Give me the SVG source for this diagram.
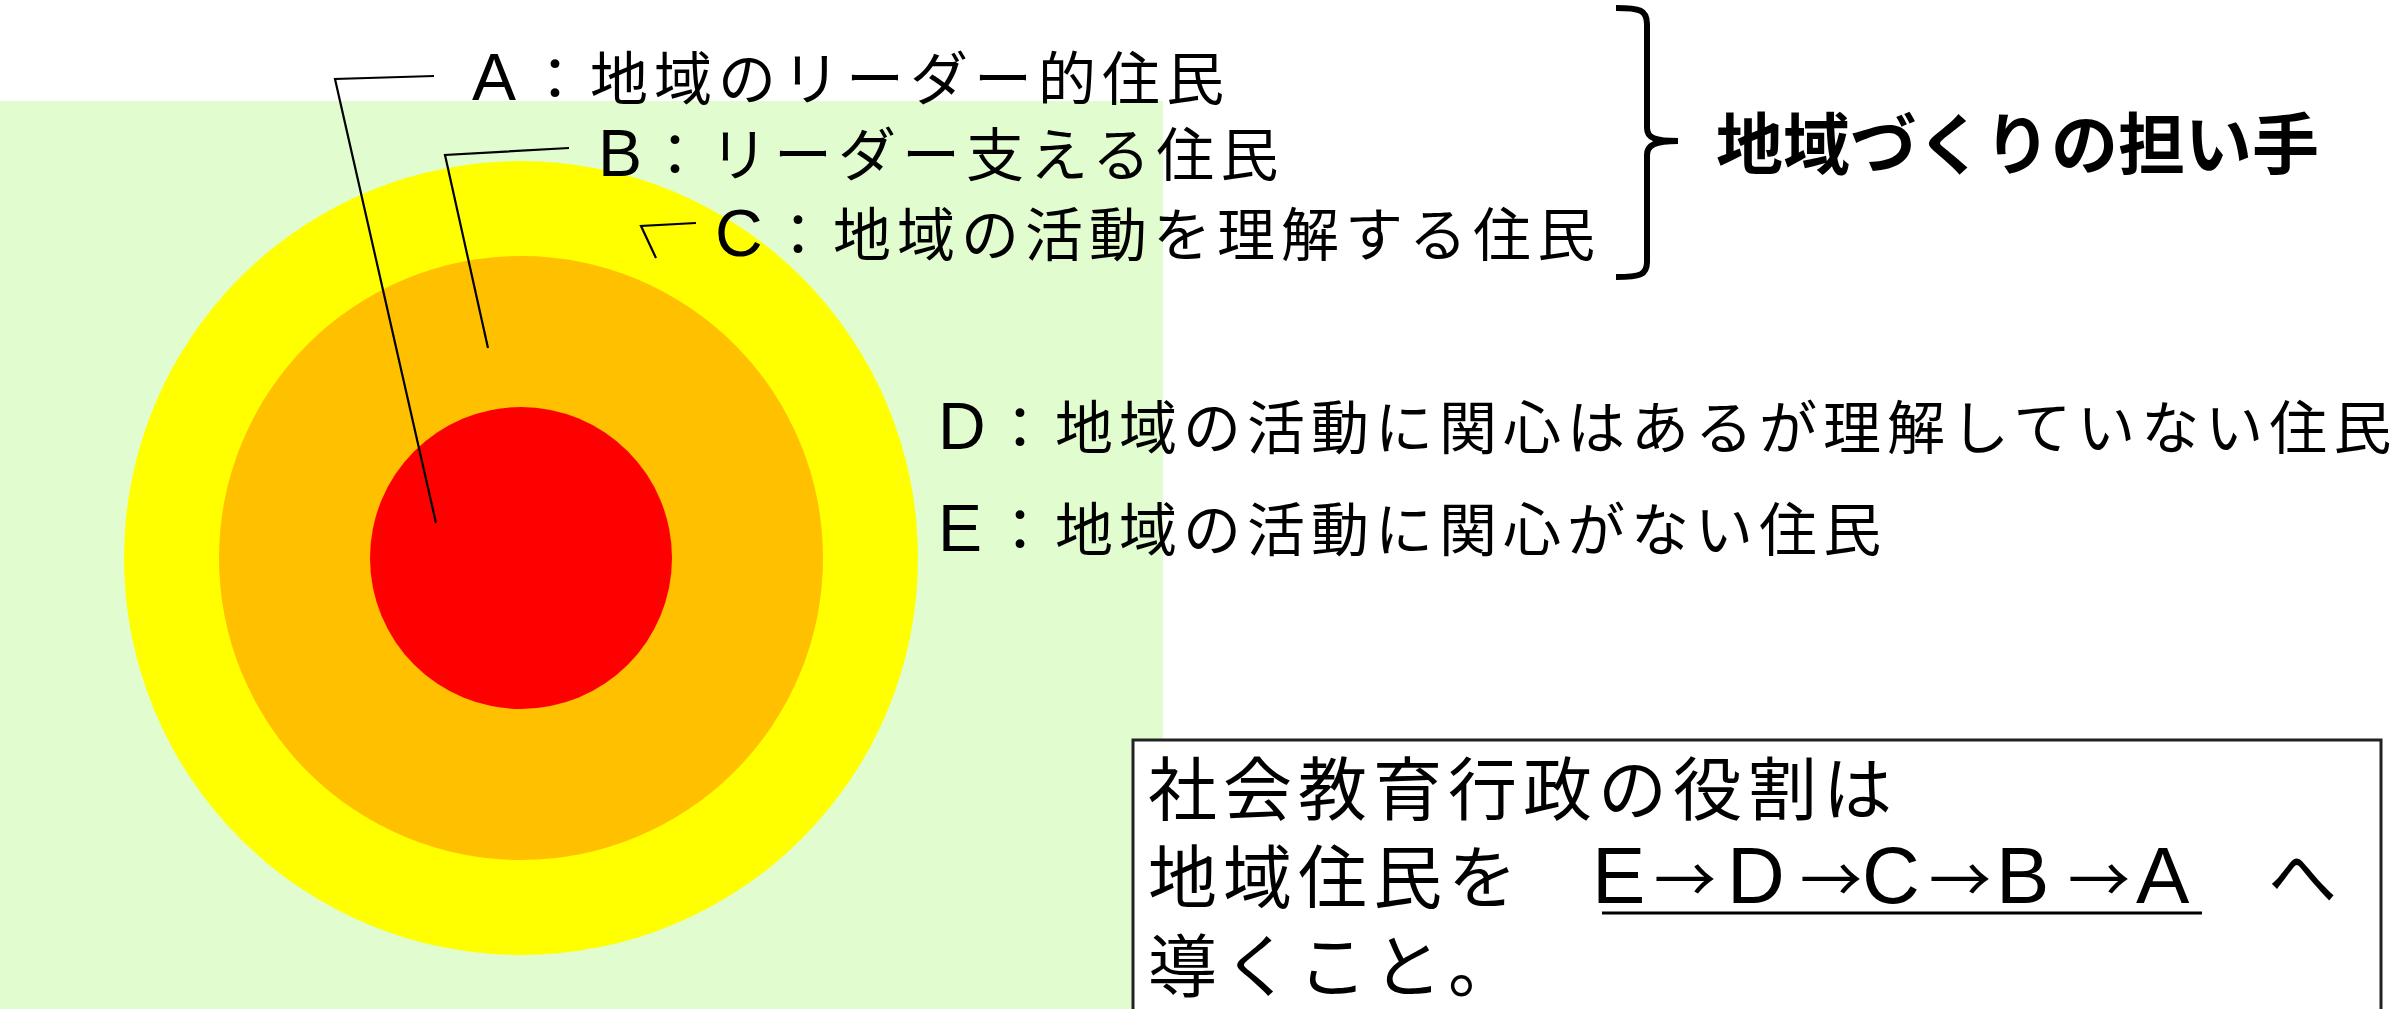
<svg xmlns="http://www.w3.org/2000/svg" width="2407" height="1009" viewBox="0 0 2407 1009">
<style>
.t{font-family:'Liberation Sans','Noto Sans CJK JP','Noto Sans CJK SC',sans-serif;fill:#000;}
.lab{font-size:58px;letter-spacing:6px;}
.ltr{font-size:66px;letter-spacing:0;}
.box{font-size:69px;letter-spacing:6px;}
.bl{font-size:80px;letter-spacing:0;}
.arr{font-family:'Noto Sans CJK JP','Noto Sans CJK SC',sans-serif;font-size:62px;letter-spacing:0;}
.conn{fill:none;stroke:#000;stroke-width:2.2;}
</style>
<rect x="0" y="0" width="2407" height="1009" fill="#fff"/>
<g id="background">
<rect x="0" y="101" width="1163" height="908" fill="#E1FCCE"/>
</g>
<g id="rings">
<circle id="ring-C" cx="521" cy="558" r="397" fill="#FFFF00"/>
<circle id="ring-B" cx="521" cy="558" r="302" fill="#FFC000"/>
<circle id="ring-A" cx="521" cy="558" r="151" fill="#FF0000"/>
</g>
<g id="connectors">
<polyline class="conn" points="434,76 335,79 436,523"/>
<polyline class="conn" points="569,148 445,155 488,348"/>
<polyline class="conn" points="696,223 641,226 656,258"/>
<path d="M1616,8 C1640,8 1647,10 1647,24 L1647,128 C1647,138 1655,141 1678,141 C1655,141 1647,145 1647,155 L1647,262 C1647,275 1640,277 1616,277" fill="none" stroke="#000" stroke-width="6"/>
</g>
<g id="label-A"><text class="t lab" y="100"><tspan class="ltr" x="472">A</tspan><tspan x="526">：地域のリーダー的住民</tspan></text></g>
<g id="label-B"><text class="t lab" y="176"><tspan class="ltr" x="598">B</tspan><tspan x="646">：リーダー支える住民</tspan></text></g>
<g id="label-C"><text class="t lab" y="256"><tspan class="ltr" x="715">C</tspan><tspan x="769">：地域の活動を理解する住民</tspan></text></g>
<g id="label-D"><text class="t lab" y="449"><tspan class="ltr" x="938">D</tspan><tspan x="991">：地域の活動に関心はあるが理解していない住民</tspan></text></g>
<g id="label-E"><text class="t lab" y="551"><tspan class="ltr" x="938">E</tspan><tspan x="991">：地域の活動に関心がない住民</tspan></text></g>
<g id="title"><text class="t" x="1716" y="169" font-size="67" font-weight="bold">地域づくりの担い手</text></g>
<g id="role-box">
<rect x="1133" y="740" width="1248" height="320" fill="#fff" stroke="#222" stroke-width="3"/>
<line x1="1602" y1="913" x2="2202" y2="913" stroke="#000" stroke-width="3"/>
<text class="t box"><tspan x="1148" y="815">社会教育行政の役割は</tspan><tspan x="1148" y="903">地域住民を　</tspan><tspan class="bl" x="1592">E</tspan><tspan class="arr" x="1654">→</tspan><tspan class="bl" x="1727">D</tspan><tspan class="arr" x="1800">→</tspan><tspan class="bl" x="1862">C</tspan><tspan class="arr" x="1929">→</tspan><tspan class="bl" x="1996">B</tspan><tspan class="arr" x="2068">→</tspan><tspan class="bl" x="2136">A</tspan><tspan x="2268" y="903">へ</tspan><tspan x="1148" y="992">導くこと。</tspan></text>
</g>
</svg>
